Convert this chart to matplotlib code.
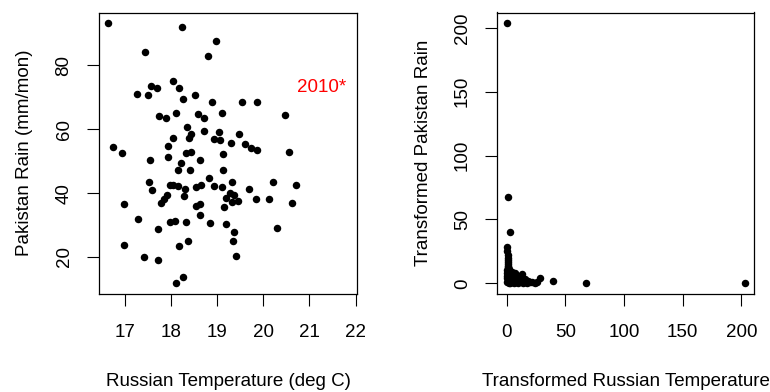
import numpy as np
import matplotlib
matplotlib.use('Agg')
import matplotlib.pyplot as plt

plt.rcParams['font.family'] = ['Liberation Sans', 'DejaVu Sans']

# Russian temperature (deg C) vs Pakistan rain (mm/mon)
temp = [16.64, 18.24, 18.97, 17.43, 18.79, 18.05, 17.56, 17.70, 18.18, 17.25,
        17.49, 18.52, 18.26, 18.89, 19.54, 19.87, 17.73, 17.88, 18.10, 18.58,
        18.71, 19.10, 20.47, 18.34, 18.72, 19.03, 18.43, 18.38, 18.03, 19.47,
        18.92, 19.05, 19.29, 19.61, 19.74, 19.86, 20.56, 17.93, 16.75, 16.93,
        18.33, 18.43, 19.12, 17.54, 17.94, 18.63, 18.22, 18.14, 18.41, 19.12,
        18.83, 17.52, 17.59, 17.98, 18.05, 18.15, 18.29, 18.27, 18.54, 18.64,
        18.93, 19.11, 19.31, 20.20, 20.71, 19.68, 19.28, 19.36, 19.19, 19.31,
        19.44, 19.85, 20.13, 20.61, 17.90, 17.84, 17.78, 16.98, 18.55, 18.62,
        19.14, 18.62, 17.29, 17.98, 18.08, 18.32, 18.84, 19.18, 17.72, 20.30,
        19.37, 19.35, 18.36, 18.16, 16.98, 17.41, 17.72, 19.41, 18.26, 18.11]
rain = [93.4, 92.1, 87.7, 84.3, 82.9, 75.1, 73.7, 73.0, 73.1, 71.1,
        70.7, 70.6, 69.4, 68.5, 68.7, 68.7, 64.2, 63.4, 65.0, 64.8,
        63.7, 65.1, 64.4, 60.8, 59.4, 59.2, 58.4, 57.2, 57.4, 58.5,
        56.9, 56.8, 55.6, 55.3, 54.1, 53.5, 52.8, 54.8, 54.5, 52.5,
        52.5, 53.0, 52.4, 50.5, 51.3, 50.4, 49.4, 47.4, 47.4, 47.1,
        44.9, 43.5, 40.9, 42.4, 42.6, 42.3, 41.2, 39.1, 42.0, 42.4,
        42.2, 41.8, 43.6, 43.6, 42.6, 41.2, 40.2, 39.5, 38.6, 37.1,
        37.5, 38.1, 38.1, 36.8, 39.3, 38.2, 36.8, 36.6, 36.1, 36.5,
        35.8, 33.2, 31.8, 31.1, 31.4, 31.1, 30.8, 30.3, 28.7, 29.1,
        27.7, 25.0, 25.0, 23.4, 23.9, 20.0, 19.1, 20.3, 13.8, 11.8]

# transformed values, right panel
t_temp = [0.3, 1.1, 2.7, 0.5, 1.5, 1.0, 0.8, 1.2, 0.5, 1.8,
          0.3, 2.5, 7.0, 13.2, 28.4, 39.8, 67.7, 203.4, 5.0, 9.0,
          11.0, 15.0, 18.0, 20.0, 22.0, 16.0, 8.0, 4.0, 3.0, 6.0,
          10.0, 12.0, 2.0, 1.0, 0.5, 0.2, 1.0, 2.0, 0.4, 3.5,
          6.5, 14.0, 17.0, 24.0, 26.0, 5.5, 9.5, 0.7, 1.4, 2.2,
          0.9, 3.0, 4.5, 7.5, 0.6, 1.7]
t_rain = [203.6, 67.4, 40.3, 28.6, 22.0, 18.0, 15.0, 12.5, 10.5, 9.0,
          8.0, 7.0, 7.8, 7.0, 4.4, 1.8, 0.5, 0.5, 4.0, 3.5,
          4.8, 2.0, 1.5, 1.0, 0.8, 3.0, 1.0, 2.0, 0.5, 0.3,
          0.2, 1.5, 3.0, 5.0, 6.0, 1.0, 2.0, 0.2, 4.0, 5.5,
          2.5, 0.5, 0.3, 0.6, 1.2, 6.0, 5.8, 13.5, 16.5, 11.0,
          20.0, 9.5, 8.5, 3.2, 25.0, 0.9]

label_2010 = (21.27, 73.1)

FS = 13.5

fig = plt.figure(figsize=(7.7, 3.92), dpi=100)
ax1 = fig.add_axes([99 / 770, 1 - 294 / 392, 258 / 770, 281.5 / 392])
ax2 = fig.add_axes([497.3 / 770, 1 - 294 / 392, 257 / 770, 281.5 / 392])

for ax in (ax1, ax2):
    for s in ax.spines.values():
        s.set_linewidth(0.9)
    ax.tick_params(length=8.5, width=0.8, labelsize=FS)
    ax.tick_params(axis='x', pad=13)
    ax.tick_params(axis='y', pad=10.5)

ax1.plot(temp, rain, 'o', color='black', ms=5.4, mew=0)
ax1.text(label_2010[0], label_2010[1], '2010*', color='red', fontsize=FS,
         ha='center', va='center')
ax1.set_xlim(16.436, 22.03)
ax1.set_ylim(8.4, 96.6)
ax1.set_xticks([17, 18, 19, 20, 21, 22])
ax1.set_yticks([20, 40, 60, 80])
ax1.set_xlabel('Russian Temperature (deg C)', fontsize=FS)
ax1.set_ylabel('Pakistan Rain (mm/mon)', fontsize=FS)

ax2.plot(t_temp, t_rain, 'o', color='black', ms=5.4, mew=0)
ax2.set_xlim(-8.0, 211.1)
ax2.set_ylim(-8.4, 212)
ax2.set_xticks([0, 50, 100, 150, 200])
ax2.set_yticks([0, 50, 100, 150, 200])
ax2.set_xlabel('Transformed Russian Temperature', fontsize=FS)
ax2.set_ylabel('Transformed Pakistan Rain', fontsize=FS)

for ax in (ax1, ax2):
    for lab in ax.get_yticklabels():
        lab.set_rotation(90)
        lab.set_va('center')
    ax.xaxis.set_label_coords(0.5, -0.28)
    ax.yaxis.set_label_coords(-0.255, 0.5)

fig.savefig('out.png', dpi=100)
